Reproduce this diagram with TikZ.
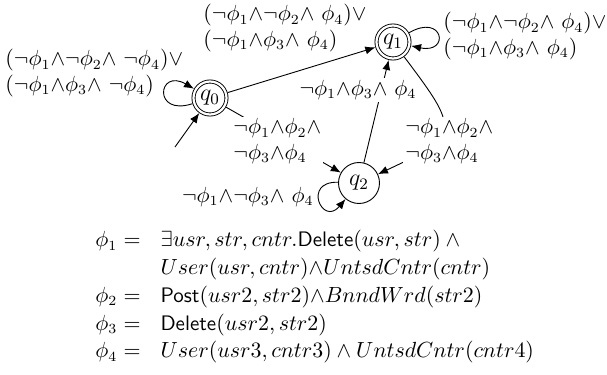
\documentclass[tikz,border=0pt]{standalone}
\usepackage{amsmath}
\usetikzlibrary{arrows.meta}
\begin{document}
\begin{tikzpicture}[x=0.5pt,y=0.5pt,
  >={Latex[length=5pt,width=4pt]},
  every path/.style={line width=0.45pt},
  every node/.style={font=\fontsize{10.5}{12.6}\selectfont},
  acc/.style={circle,draw,double,double distance=1.1pt,minimum size=16.5pt,inner sep=0pt,outer sep=1pt,font=\fontsize{12}{14}\selectfont},
  st/.style={circle,draw,minimum size=20.5pt,inner sep=0pt,font=\fontsize{12}{14}\selectfont},
  lbl/.style={inner sep=1pt,align=left},
  lblw/.style={lbl,fill=white}]
\useasboundingbox (0,0) rectangle (607,-375);

\node[acc] (q0) at (210,-98) {$q_0$};
\node[acc] (q1) at (393,-42) {$q_1$};
\node[st] (q2) at (359,-183) {$q_2$};
\coordinate (s) at (175,-147);

\draw[->] (s) -- (q0);
\draw[->] (q0) to[out=198,in=150,distance=21pt] (q0);
\draw[->] (q0) -- (q1);
\draw[->] (q1) to[out=30,in=-12,distance=20pt] (q1);
\draw[->] (q0) -- (q2);
\draw[->] (q2) -- (q1);
\draw[->] (q1) to[out=-53,in=25,distance=46pt] (q2);
\draw[->] (q2) to[out=178,in=230,distance=18pt] (q2);

\node[lbl,anchor=west] (l0) at (3,-73) {$(\neg\phi_1{\wedge}\neg\phi_2{\wedge}\ \neg\phi_4){\vee}$\\$(\neg\phi_1{\wedge}\phi_3{\wedge}\ \neg\phi_4)$};
\node[lbl,anchor=west] (l01) at (201,-28) {$(\neg\phi_1{\wedge}\neg\phi_2{\wedge}\ \phi_4){\vee}$\\$(\neg\phi_1{\wedge}\phi_3{\wedge}\ \phi_4)$};
\node[lbl,anchor=west] (l1) at (441,-36) {$(\neg\phi_1{\wedge}\neg\phi_2{\wedge}\ \phi_4){\vee}$\\$(\neg\phi_1{\wedge}\phi_3{\wedge}\ \phi_4)$};
\node[lblw,anchor=west] (l02) at (231,-141) {$\neg\phi_1{\wedge}\phi_2{\wedge}$\\$\neg\phi_3{\wedge}\phi_4$};
\node[lblw,anchor=west] (l12) at (403,-141) {$\neg\phi_1{\wedge}\phi_2{\wedge}$\\$\neg\phi_3{\wedge}\phi_4$};
\node[lblw] (l21) at (358,-90) {$\neg\phi_1{\wedge}\phi_3{\wedge}\ \phi_4$};
\node[lbl,anchor=east] (l22) at (316,-197) {$\neg\phi_1{\wedge}\neg\phi_3{\wedge}\ \phi_4$};

\node[anchor=base west,inner sep=0pt] (defs) at (95,-247) {$\renewcommand\arraystretch{1.1}\begin{array}[t]{@{}rl@{}}
\phi_1 = & \exists usr, str, cntr.\textsf{Delete}(usr, str) \wedge {}\\
 & User(usr, cntr){\wedge}UntsdCntr(cntr)\\
\phi_2 = & \textsf{Post}(usr2, str2){\wedge}BnndWrd(str2)\\
\phi_3 = & \textsf{Delete}(usr2, str2)\\
\phi_4 = & User(usr3, cntr3) \wedge UntsdCntr(cntr4)
\end{array}$};
\end{tikzpicture}
\end{document}
